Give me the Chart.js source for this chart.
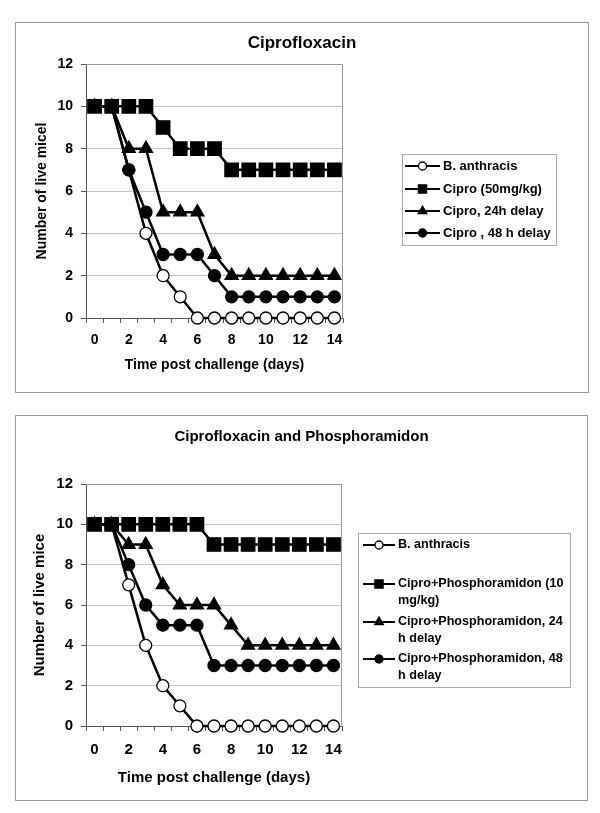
<!DOCTYPE html>
<html>
<head>
<meta charset="utf-8">
<script src="https://cdn.jsdelivr.net/npm/chart.js"></script>
<style>
  body { margin: 0; background: #fff; }
  .panel { position: absolute; left: 15px; border: 1px solid #9a9a9a; background: #fff; }
  #p1 { top: 22px; width: 572px; height: 369px; }
  #p2 { top: 415px; width: 571px; height: 384px; }
  canvas { display: block; }
</style>
</head>
<body>
<div class="panel" id="p1"><canvas id="chart1" width="572" height="369"></canvas></div>
<div class="panel" id="p2"><canvas id="chart2" width="571" height="384"></canvas></div>

<script>
// ==============================
// DATA
// ==============================
const days = ["0", "1", "2", "3", "4", "5", "6", "7", "8", "9", "10", "11", "12", "13", "14"];

// top panel: Ciprofloxacin
const anthracis1 = [10, 10, 7, 4, 2, 1, 0, 0, 0, 0, 0, 0, 0, 0, 0];
const cipro50 = [10, 10, 10, 10, 9, 8, 8, 8, 7, 7, 7, 7, 7, 7, 7];
const cipro24 = [10, 10, 8, 8, 5, 5, 5, 3, 2, 2, 2, 2, 2, 2, 2];
const cipro48 = [10, 10, 7, 5, 3, 3, 3, 2, 1, 1, 1, 1, 1, 1, 1];
const legend1 = [["B. anthracis"], ["Cipro (50mg/kg)"], ["Cipro, 24h delay"], ["Cipro , 48 h delay"]];

// bottom panel: Ciprofloxacin and Phosphoramidon
const anthracis2 = [10, 10, 7, 4, 2, 1, 0, 0, 0, 0, 0, 0, 0, 0, 0];
const phos10 = [10, 10, 10, 10, 10, 10, 10, 9, 9, 9, 9, 9, 9, 9, 9];
const phos24 = [10, 10, 9, 9, 7, 6, 6, 6, 5, 4, 4, 4, 4, 4, 4];
const phos48 = [10, 10, 8, 6, 5, 5, 5, 3, 3, 3, 3, 3, 3, 3, 3];
const legend2 = [
  ["B. anthracis"],
  ["Cipro+Phosphoramidon (10", "mg/kg)"],
  ["Cipro+Phosphoramidon, 24", "h delay"],
  ["Cipro+Phosphoramidon, 48", "h delay"]
];

const yTicks = [0, 2, 4, 6, 8, 10, 12];

const FONT = '"Liberation Sans", Arial, sans-serif';

// ==============================
// MARKERS
// ==============================
function drawMarker(ctx, style, x, y, r, fill) {
  ctx.beginPath();
  if (style === "rect") {
    const s = r * Math.SQRT1_2;
    ctx.rect(x - s, y - s, 2 * s, 2 * s);
  } else if (style === "triangle") {
    for (let k = 0; k < 3; k++) {
      const a = k * 2 * Math.PI / 3;
      const px = x + Math.sin(a) * r;
      const py = y - Math.cos(a) * r;
      k === 0 ? ctx.moveTo(px, py) : ctx.lineTo(px, py);
    }
    ctx.closePath();
  } else {
    ctx.arc(x, y, r, 0, Math.PI * 2);
  }
  ctx.fillStyle = fill;
  ctx.fill();
  ctx.lineWidth = 1.3;
  ctx.strokeStyle = "#000";
  ctx.stroke();
}

// legend drawn at the right of the plot
const sideLegend = {
  id: "sideLegend",
  afterDraw(chart, args, opts) {
    const ctx = chart.ctx;
    ctx.save();
    ctx.strokeStyle = "#a8a8a8";
    ctx.lineWidth = 1;
    ctx.strokeRect(opts.box[0] + 0.5, opts.box[1] + 0.5, opts.box[2], opts.box[3]);
    ctx.font = "bold " + opts.fontSize + "px " + FONT;
    ctx.textBaseline = "middle";
    chart.data.datasets.forEach((ds, i) => {
      const y = opts.rows[i];
      ctx.beginPath();
      ctx.moveTo(opts.lineX[0], y);
      ctx.lineTo(opts.lineX[1], y);
      ctx.lineWidth = 2;
      ctx.strokeStyle = "#000";
      ctx.stroke();
      const mid = (opts.lineX[0] + opts.lineX[1]) / 2;
      const rr = ds.pointStyle === "rect" ? 5.8 : ds.pointStyle === "triangle" ? 5 : 4;
      drawMarker(ctx, ds.pointStyle, mid, y, rr, ds.pointBackgroundColor);
      ctx.fillStyle = "#000";
      opts.lines[i].forEach((t, k) => ctx.fillText(t, opts.textX, y + k * opts.lineGap));
    });
    ctx.restore();
  }
};

// plot frame (grey top and right edges)
const plotFrame = {
  id: "plotFrame",
  beforeDatasetsDraw(chart) {
    const a = chart.chartArea;
    const ctx = chart.ctx;
    ctx.save();
    ctx.strokeStyle = "#9a9a9a";
    ctx.lineWidth = 1;
    ctx.beginPath();
    ctx.moveTo(a.left, a.top + 0.5);
    ctx.lineTo(a.right - 0.5, a.top + 0.5);
    ctx.lineTo(a.right - 0.5, a.bottom);
    ctx.stroke();
    ctx.restore();
  }
};

function makeSeries(values, labels) {
  const styles = [
    { pointStyle: "circle", bg: "#fff", r: 6, order: 3 },
    { pointStyle: "rect", bg: "#000", r: 9.5, order: 2 },
    { pointStyle: "triangle", bg: "#000", r: 7.5, order: 1 },
    { pointStyle: "circle", bg: "#000", r: 6, order: 0 }
  ];
  return values.map((v, i) => ({
    label: labels[i].join(" "),
    data: v,
    borderColor: "#000",
    borderWidth: 2.5,
    pointStyle: styles[i].pointStyle,
    pointRadius: styles[i].r,
    pointBackgroundColor: styles[i].bg,
    pointBorderColor: "#000",
    pointBorderWidth: 1.3,
    tension: 0,
    clip: false,
    order: styles[i].order
  }));
}

function makeChart(id, cfg) {
  const tickFont = { family: FONT, size: cfg.tickSize, weight: "bold" };
  const titleFont = { family: FONT, size: cfg.axisSize, weight: "bold" };
  return new Chart(document.getElementById(id), {
    type: "line",
    data: { labels: days, datasets: makeSeries(cfg.series, cfg.legend) },
    options: {
      responsive: false,
      animation: false,
      events: [],
      layout: { padding: 0 },
      scales: {
        x: {
          type: "category",
          offset: true,
          grid: { offset: true, drawOnChartArea: false, tickLength: 5, tickColor: "#555" },
          border: { color: "#555", width: 1 },
          ticks: {
            autoSkip: false, maxRotation: 0, color: "#000", font: tickFont, padding: cfg.xPad,
            callback: (v, i) => (i % 2 === 0 ? days[i] : "")
          },
          title: { display: true, text: "Time post challenge (days)", color: "#000", font: titleFont, padding: { top: 0, bottom: cfg.xTitlePad } },
          afterFit: (s) => { s.height = cfg.xHeight; }
        },
        y: {
          min: 0,
          max: 12,
          afterBuildTicks: (s) => { s.ticks = yTicks.map((v) => ({ value: v })); },
          grid: { color: "#c4c4c4", tickLength: 5, tickColor: "#555" },
          border: { color: "#555", width: 1 },
          ticks: { color: "#000", font: tickFont, padding: 8 },
          title: { display: true, text: cfg.yTitle, color: "#000", font: titleFont, padding: { top: cfg.yTitlePad, bottom: 0 } },
          afterFit: (s) => { s.width = 70; }
        },
        pad: {
          position: "right",
          grid: { display: false, drawTicks: false },
          border: { display: false },
          ticks: { display: false },
          afterFit: (s) => { s.width = cfg.padRight; }
        }
      },
      plugins: {
        legend: { display: false },
        tooltip: { enabled: false },
        title: {
          display: true, text: cfg.title, color: "#000",
          font: { family: FONT, size: cfg.titleSize, weight: "bold" },
          padding: cfg.titlePad
        },
        sideLegend: cfg.sideLegend
      }
    },
    plugins: [plotFrame, sideLegend]
  });
}

// ==============================
// CHARTS
// ==============================
makeChart("chart1", {
  series: [anthracis1, cipro50, cipro24, cipro48],
  legend: legend1,
  title: "Ciprofloxacin",
  yTitle: "Number of live micel",
  titleSize: 17, titlePad: { top: 10, bottom: 10.6 },
  tickSize: 14, axisSize: 14,
  xPad: 9, xTitlePad: 18.6, xHeight: 74, yTitlePad: 17.6,
  padRight: 245,
  sideLegend: {
    box: [386, 131, 154, 91],
    rows: [143, 166, 188, 210],
    lineX: [389, 424], textX: 427, fontSize: 13, lineGap: 16.5,
    lines: legend1
  }
});

makeChart("chart2", {
  series: [anthracis2, phos10, phos24, phos48],
  legend: legend2,
  title: "Ciprofloxacin and Phosphoramidon",
  yTitle: "Number of live mice",
  titleSize: 15, titlePad: { top: 12, bottom: 38 },
  tickSize: 15, axisSize: 15,
  xPad: 10, xTitlePad: 13, xHeight: 74, yTitlePad: 15,
  padRight: 245,
  sideLegend: {
    box: [342, 117, 212, 154],
    rows: [129, 168, 206, 243],
    lineX: [347, 379], textX: 382, fontSize: 12.6, lineGap: 16.5,
    lines: legend2
  }
});
</script>
</body>
</html>
